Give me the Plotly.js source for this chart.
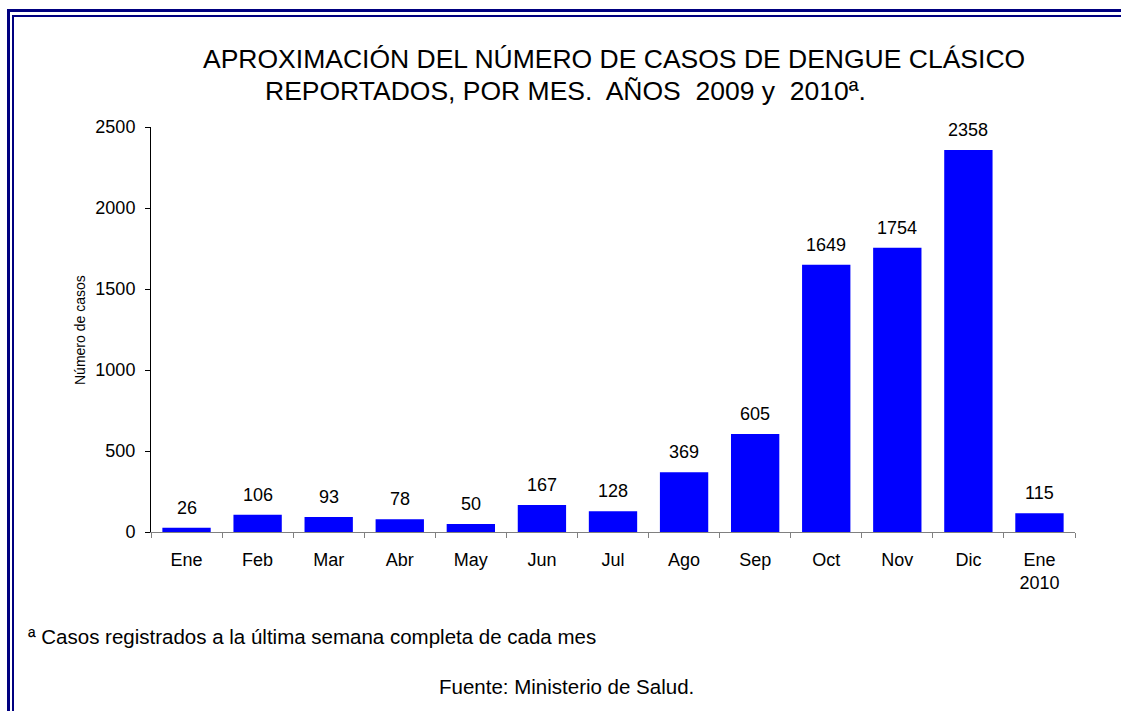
<!DOCTYPE html>
<html>
<head>
<meta charset="utf-8">
<script src="https://cdn.plot.ly/plotly-3.0.1.min.js"></script>
<style>
  html, body { margin:0; padding:0; background:#fff; width:1121px; height:711px; overflow:hidden; }
  #chart { position:absolute; left:0; top:0; width:1121px; height:711px; }
  .b1 { position:absolute; left:7px; top:9px; width:1200px; height:800px; border-left:3px solid #000080; border-top:3px solid #000080; pointer-events:none; }
  .b2 { position:absolute; left:12px; top:15px; width:1200px; height:800px; border-left:2px solid #000080; border-top:2px solid #000080; pointer-events:none; }
</style>
</head>
<body>
<div id="chart"></div>
<div class="b1"></div>
<div class="b2"></div>
<script>
const months = ["Ene","Feb","Mar","Abr","May","Jun","Jul","Ago","Sep","Oct","Nov","Dic","Ene<br>2010"];
const cases = [26,106,93,78,50,167,128,369,605,1649,1754,2358,115];
const yTicks = [0,500,1000,1500,2000,2500];

const titleLine1 = "APROXIMACIÓN DEL NÚMERO DE CASOS DE DENGUE CLÁSICO";
const titleLine2 = "REPORTADOS, POR MES.  AÑOS  2009 y  2010ª.";
const yTitle = "Número de casos";
const footnote = "ª Casos registrados a la última semana completa de cada mes";
const source = "Fuente: Ministerio de Salud.";

const W = 1121, H = 711;
const L = 151, R = 1075, T = 127, B = 532;
const px = x => (x - L) / (R - L);
const py = y => (B - y) / (B - T);
const FONT = "Liberation Sans, Arial, sans-serif";

const valueLabels = months.map((m, i) => ({
  x: m, y: cases[i], xref: "x", yref: "y", text: String(cases[i]),
  showarrow: false, yanchor: "bottom", yshift: 8,
  font: {family: FONT, size: 18, color: "#000"}
}));

const layout = {
  width: W, height: H,
  margin: {l: L, r: W - R, t: T, b: H - B},
  paper_bgcolor: "#fff", plot_bgcolor: "#fff",
  showlegend: false,
  bargap: 0.32,
  font: {family: FONT, color: "#000"},
  xaxis: {
    type: "category",
    tickson: "boundaries",
    ticks: "outside", ticklen: 5, tickcolor: "#808080",
    ticklabelstandoff: 11,
    showline: true, linecolor: "#808080", linewidth: 1,
    showgrid: false, zeroline: false,
    tickfont: {family: FONT, size: 18, color: "#000"}
  },
  yaxis: {
    range: [0, 2500],
    tickvals: yTicks,
    ticks: "outside", ticklen: 5, tickcolor: "#000",
    ticklabelstandoff: 6,
    showline: true, linecolor: "#000", linewidth: 1,
    showgrid: false, zeroline: false,
    tickfont: {family: FONT, size: 18, color: "#000"}
  },
  annotations: valueLabels.concat([
    {text: titleLine1, xref: "paper", yref: "paper", x: px(201), y: py(59),
     xanchor: "left", yanchor: "middle", showarrow: false,
     font: {family: FONT, size: 26.5, color: "#000"}},
    {text: titleLine2, xref: "paper", yref: "paper", x: px(263), y: py(91),
     xanchor: "left", yanchor: "middle", showarrow: false,
     font: {family: FONT, size: 26.5, color: "#000"}},
    {text: yTitle, xref: "paper", yref: "paper", x: px(80), y: py(330),
     xanchor: "center", yanchor: "middle", textangle: -90, showarrow: false,
     font: {family: FONT, size: 14, color: "#000"}},
    {text: footnote, xref: "paper", yref: "paper", x: px(26), y: py(636),
     xanchor: "left", yanchor: "middle", showarrow: false,
     font: {family: FONT, size: 20.5, color: "#000"}},
    {text: source, xref: "paper", yref: "paper", x: px(566), y: py(686),
     xanchor: "center", yanchor: "middle", showarrow: false,
     font: {family: FONT, size: 20.5, color: "#000"}}
  ])
};

Plotly.newPlot("chart", [{
  type: "bar", x: months, y: cases,
  marker: {color: "#0000FF", line: {width: 0}},
  hoverinfo: "x+y"
}], layout, {displayModeBar: false, staticPlot: true});
</script>
</body>
</html>
